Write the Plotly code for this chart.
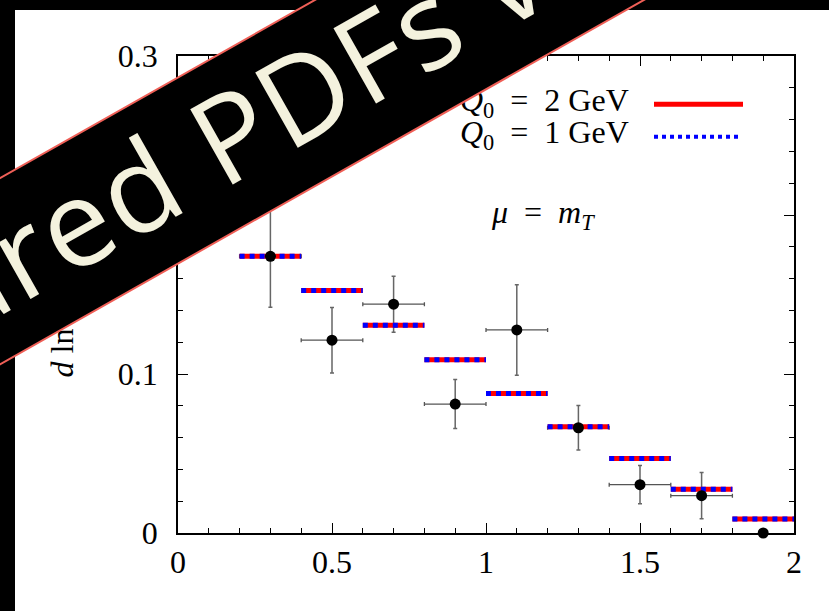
import plotly.graph_objects as go

# Histogram bins (width 0.2) and the two predictions
bin_lo = [0.2, 0.4, 0.6, 0.8, 1.0, 1.2, 1.4, 1.6, 1.8]
bin_hi = [0.4, 0.6, 0.8, 1.0, 1.2, 1.4, 1.6, 1.8, 2.0]
pred_q0_2gev = [0.174, 0.1525, 0.1306, 0.109, 0.0877, 0.0669, 0.0468, 0.0275, 0.0088]
pred_q0_1gev = [0.174, 0.1525, 0.1306, 0.109, 0.0877, 0.0669, 0.0468, 0.0275, 0.0088]

# Measured points with errors
data_x = [0.3, 0.5, 0.7, 0.9, 1.1, 1.3, 1.5, 1.7, 1.9]
data_y = [0.174, 0.1213, 0.1439, 0.0811, 0.1277, 0.0662, 0.0304, 0.0235, 0.0]
data_yerr = [0.032, 0.0206, 0.0176, 0.0154, 0.0285, 0.014, 0.012, 0.0146, 0.0]
data_xerr = [0.1, 0.1, 0.1, 0.1, 0.1, 0.1, 0.1, 0.1, 0.0]

x_tickvals = [0, 0.5, 1, 1.5, 2]
x_ticktext = ["0", "0.5", "1", "1.5", "2"]
y_tickvals = [0, 0.1, 0.2, 0.3]
y_ticktext = ["0", "0.1", "0.2", "0.3"]

legend_labels = ["<i>Q</i><sub>0</sub>\u2002=\u20022 GeV", "<i>Q</i><sub>0</sub>\u2002=\u20021 GeV"]
scale_label = "<i>\u03bc</i>\u2002=\u2002<i>m</i><sub><i>T</i></sub>"
banner_text = "Measured PDFs vs"

SERIF = "Liberation Serif"

# page geometry (px) used to convert to paper coordinates
W, H = 829, 611
ML, MR, MT, MB = 178, 35, 56, 78
PW, PH = W - ML - MR, H - MT - MB


def px(x):
    return (x - ML) / PW


def py(y):
    return 1 - (y - MT) / PH


def steps(lo, hi, vals):
    xs, ys = [], []
    for a, b, v in zip(lo, hi, vals):
        xs += [a, b, None]
        ys += [v, v, None]
    return xs, ys


fig = go.Figure()

# error bars underneath everything
fig.add_trace(go.Scatter(
    x=data_x, y=data_y, mode="markers",
    marker=dict(size=1, color="rgba(0,0,0,0)"),
    error_y=dict(type="data", array=data_yerr, visible=True, color="#666666", thickness=1.5, width=2),
    error_x=dict(type="data", array=data_xerr, visible=True, color="#555555", thickness=1.3, width=2),
    showlegend=False, hoverinfo="skip", cliponaxis=False,
))

hx, hy = steps(bin_lo, bin_hi, pred_q0_2gev)
fig.add_trace(go.Scatter(x=hx, y=hy, mode="lines", line=dict(color="#ff0000", width=5),
                         showlegend=False, connectgaps=False))
hx, hy = steps(bin_lo, bin_hi, pred_q0_1gev)
fig.add_trace(go.Scatter(x=hx, y=hy, mode="lines", line=dict(color="#0000ff", width=5, dash="dot"),
                         showlegend=False, connectgaps=False))

fig.add_trace(go.Scatter(x=data_x, y=data_y, mode="markers",
                         marker=dict(size=11, color="black"),
                         showlegend=False, cliponaxis=False))

axis_common = dict(
    showline=True, linecolor="black", linewidth=1.5, mirror="ticks",
    ticks="inside", ticklen=10, tickwidth=1.2, tickcolor="black",
    showgrid=False, zeroline=False,
    tickfont=dict(family=SERIF, size=32, color="black"),
)

fig.update_xaxes(range=[0, 2], tickvals=x_tickvals, ticktext=x_ticktext, ticklabelstandoff=0,
                 minor=dict(dtick=0.1, ticklen=5, ticks="inside", tickcolor="black", tickwidth=1.2),
                 **axis_common)
fig.update_yaxes(range=[0, 0.3], tickvals=y_tickvals, ticktext=y_ticktext, ticklabelstandoff=12,
                 minor=dict(dtick=0.02, ticklen=5, ticks="inside", tickcolor="black", tickwidth=1.2),
                 **axis_common)

shapes = [
    # page frame bands
    dict(type="rect", xref="paper", yref="paper", x0=px(-50), x1=px(W + 50), y0=py(10), y1=py(-50),
         fillcolor="black", line=dict(width=0), layer="above"),
    dict(type="rect", xref="paper", yref="paper", x0=px(-50), x1=px(15), y0=py(H + 50), y1=py(-50),
         fillcolor="black", line=dict(width=0), layer="above"),
    # key samples
    dict(type="line", xref="paper", yref="paper", x0=px(654), x1=px(743), y0=py(104.3), y1=py(104.3),
         line=dict(color="#ff0000", width=5)),
    dict(type="line", xref="paper", yref="paper", x0=px(654), x1=px(741), y0=py(136.7), y1=py(136.7),
         line=dict(color="#0000ff", width=4, dash="dot")),
]

annotations = [
    dict(text=legend_labels[0], xref="paper", yref="paper", x=px(631), y=py(102), xanchor="right",
         yanchor="middle", showarrow=False, font=dict(family=SERIF, size=32, color="black")),
    dict(text=legend_labels[1], xref="paper", yref="paper", x=px(631), y=py(134.7), xanchor="right",
         yanchor="middle", showarrow=False, font=dict(family=SERIF, size=32, color="black")),
    dict(text=scale_label, xref="paper", yref="paper", x=px(542.5), y=py(214), xanchor="center",
         yanchor="middle", showarrow=False, font=dict(family=SERIF, size=32, color="black")),
    # y-axis title
    dict(text="<i>d</i> ln\u2009<i>\u03c3</i>/<i>d</i>\u2009<i>y</i>", xref="paper", yref="paper",
         x=px(61), y=py(380), xanchor="center", yanchor="bottom", textangle=-90,
         showarrow=False, font=dict(family=SERIF, size=32, color="black")),
    # diagonal ribbon
    dict(text="\u00a0", xref="paper", yref="paper", x=px(200), y=py(157.5), xanchor="center",
         yanchor="middle", textangle=-29.5, showarrow=False, width=1600, height=160,
         bgcolor="black", bordercolor="#ef5f57", borderwidth=2, borderpad=0,
         font=dict(size=10)),
    dict(text="<span style='letter-spacing:2px'>" + banner_text + "</span>",
         xref="paper", yref="paper", x=px(124), y=py(192.3), xanchor="center",
         yanchor="middle", textangle=-29.5, showarrow=False,
         font=dict(family="Open Sans", size=121, color="#f4f2de")),
]

fig.update_layout(
    width=W, height=H,
    margin=dict(l=ML, r=MR, t=MT, b=MB, pad=0),
    paper_bgcolor="white", plot_bgcolor="white",
    shapes=shapes, annotations=annotations,
    showlegend=False,
)

fig.write_html("out.html", include_plotlyjs=True, full_html=True,
               config=dict(displayModeBar=False))
